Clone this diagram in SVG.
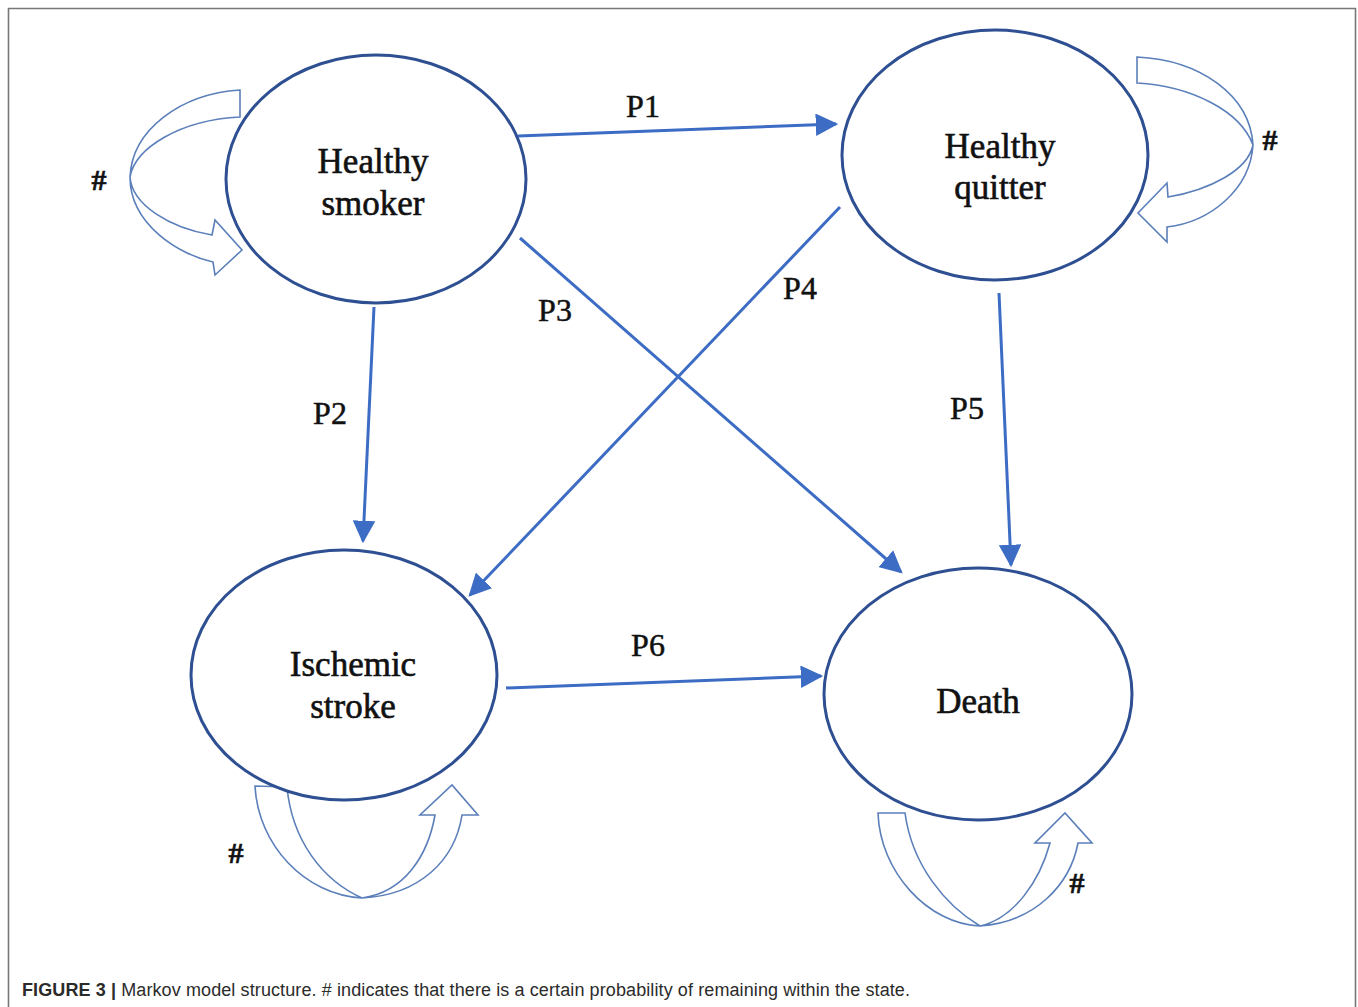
<svg xmlns="http://www.w3.org/2000/svg" width="1358" height="1007" viewBox="0 0 1358 1007">
<defs>
<style>
.node{fill:#fff;stroke:#2e4f92;stroke-width:3}
.lbl{font-family:"Liberation Serif","Times New Roman",serif;font-size:35px;fill:#111;stroke:#111;stroke-width:0.6;text-anchor:middle}
.plbl{font-family:"Liberation Serif","Times New Roman",serif;font-size:32px;fill:#111;stroke:#111;stroke-width:0.5;text-anchor:middle}
.edge{stroke:#3d6cc4;stroke-width:3;fill:none;marker-end:url(#ah)}
.loop{fill:#fff;stroke:#5b7fba;stroke-width:1.6;stroke-linejoin:miter}
.hash{font-family:"Liberation Serif","Times New Roman",serif;font-size:30px;font-weight:bold;fill:#111;stroke:#111;stroke-width:0.6;text-anchor:middle}
.cap{font-family:"Liberation Sans",Arial,sans-serif;font-size:18px;fill:#2b2b2b}
</style>
<marker id="ah" viewBox="0 0 10 10" refX="9" refY="5" markerWidth="7.5" markerHeight="7.5" markerUnits="strokeWidth" orient="auto">
<path d="M0,0 L10,5 L0,10 Z" fill="#3d6cc4"/>
</marker>
</defs>
<rect x="0" y="0" width="1358" height="1007" fill="#fff"/>
<path d="M8.5,1010 V8.5 H1355.5 V1010" fill="none" stroke="#777" stroke-width="1.6"/>

<g id="connectors">
<line class="edge" x1="518" y1="136" x2="836" y2="124"/>
<line class="edge" x1="374" y1="307" x2="363" y2="541"/>
<line class="edge" x1="520" y1="238" x2="901" y2="572"/>
<line class="edge" x1="840" y1="207" x2="470" y2="595"/>
<line class="edge" x1="999" y1="293" x2="1011" y2="565"/>
<line class="edge" x1="506" y1="688" x2="821" y2="676"/>
<text class="plbl" x="643" y="117">P1</text>
<text class="plbl" x="330" y="424">P2</text>
<text class="plbl" x="555" y="321">P3</text>
<text class="plbl" x="800" y="299">P4</text>
<text class="plbl" x="967" y="419">P5</text>
<text class="plbl" x="648" y="656">P6</text>
</g>

<g id="loops">
<path class="loop" d="M240,90 C180,94 132,130 130,177 C130,225 180,255 213,262 L215,275 L242,250 L215,220 L212,235 C170,228 132,205 130,177 C135,148 180,120 240,117 Z"/>
<path class="loop" d="M1137,57 C1200,60 1250,95 1253,145 C1250,190 1210,222 1167,227 L1167,242 L1138,213 L1167,183 L1168,197 C1210,190 1248,170 1253,145 C1240,110 1190,86 1137,83 Z"/>
<path class="loop" d="M255,786 C258,845 305,895 362,898 C420,895 455,860 462,815 L478,815 L452,785 L420,815 L435,815 C428,855 405,892 362,898 C322,880 292,840 287,787 Z"/>
<path class="loop" d="M878,813 C880,872 928,924 980,926 C1035,922 1070,885 1078,843 L1092,843 L1065,813 L1035,843 L1050,843 C1040,880 1015,918 980,926 C945,905 912,865 905,813 Z"/>
<text class="hash" x="99" y="190">#</text>
<text class="hash" x="1270" y="150">#</text>
<text class="hash" x="236" y="863">#</text>
<text class="hash" x="1077" y="893">#</text>
</g>

<g id="healthy-smoker">
<ellipse class="node" cx="376" cy="179" rx="150" ry="124"/>
<text class="lbl" x="373" y="173">Healthy</text>
<text class="lbl" x="373" y="215">smoker</text>
</g>
<g id="healthy-quitter">
<ellipse class="node" cx="995" cy="155" rx="153" ry="125"/>
<text class="lbl" x="1000" y="158">Healthy</text>
<text class="lbl" x="1000" y="199">quitter</text>
</g>
<g id="ischemic-stroke">
<ellipse class="node" cx="344" cy="675" rx="153" ry="125"/>
<text class="lbl" x="353" y="676">Ischemic</text>
<text class="lbl" x="353" y="718">stroke</text>
</g>
<g id="death">
<ellipse class="node" cx="978" cy="694" rx="154" ry="126"/>
<text class="lbl" x="978" y="713">Death</text>
</g>

<text class="cap" x="22" y="996" textLength="888" lengthAdjust="spacing"><tspan font-weight="bold">FIGURE 3 |</tspan> Markov model structure. # indicates that there is a certain probability of remaining within the state.</text>
</svg>
